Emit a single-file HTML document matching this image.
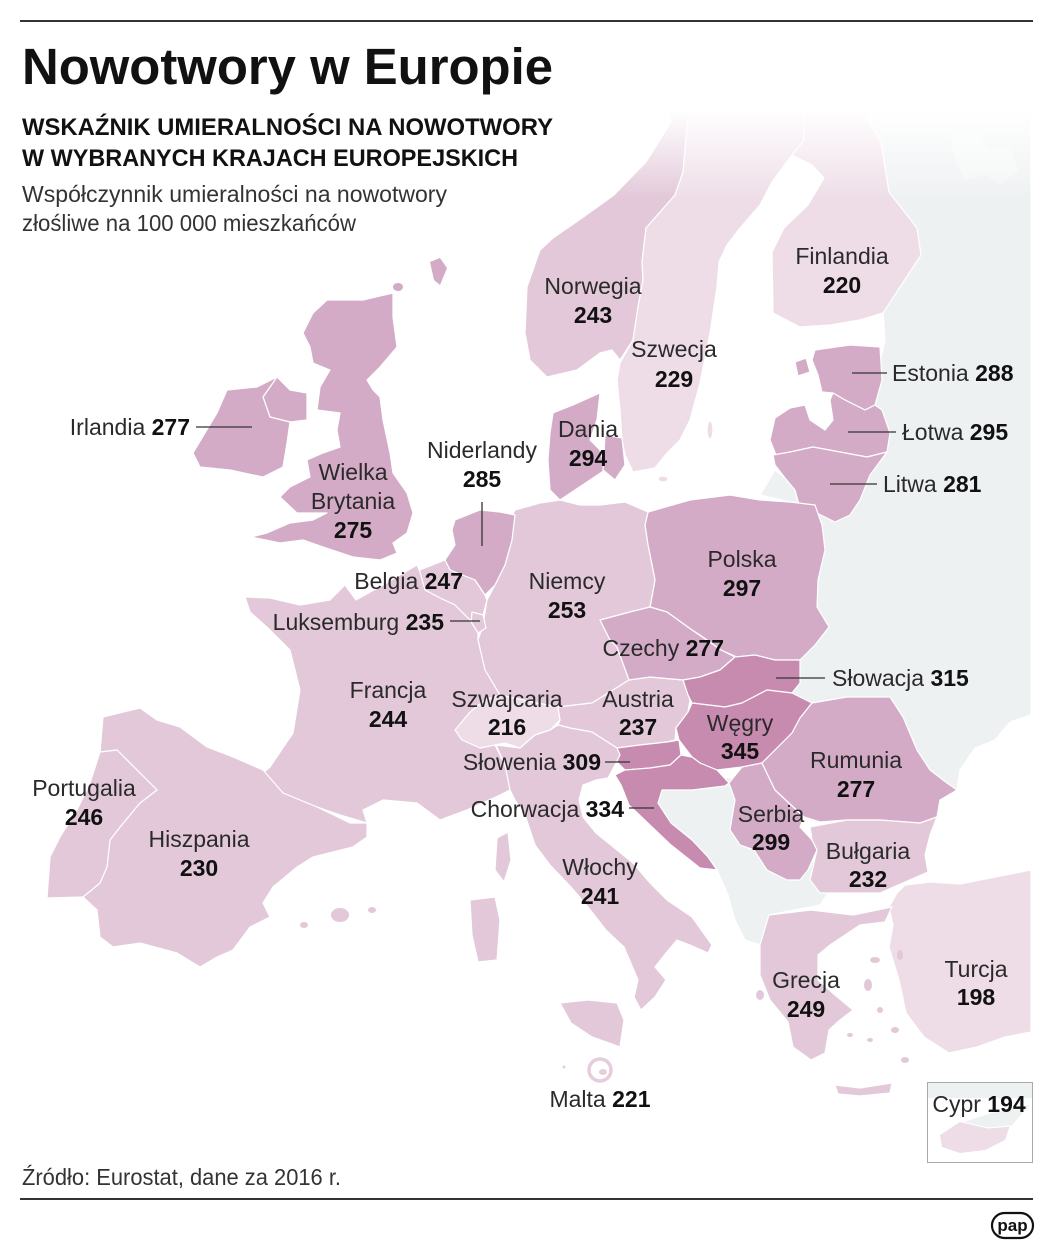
<!DOCTYPE html>
<html><head><meta charset="utf-8"><style>
html,body{margin:0;padding:0;background:#fff;}
svg{display:block;}
text{font-family:"Liberation Sans",sans-serif;}
.n{font-size:23px;fill:#2a2a2a;}
.v{font-size:23px;font-weight:bold;fill:#111;}
</style></head><body>
<svg width="1054" height="1250" viewBox="0 0 1054 1250" xmlns="http://www.w3.org/2000/svg">
<defs>
<linearGradient id="fade" x1="0" y1="0" x2="0" y2="1">
<stop offset="0" stop-color="#fff" stop-opacity="1"/>
<stop offset="0.12" stop-color="#fff" stop-opacity="1"/>
<stop offset="1" stop-color="#fff" stop-opacity="0"/>
</linearGradient>
</defs>
<rect width="1054" height="1250" fill="#fff"/>
<line x1="20" y1="21" x2="1033" y2="21" stroke="#333" stroke-width="2"/>

<g stroke="#fff" stroke-width="1.2" stroke-linejoin="round">
<polygon fill="#eef1f2" points="869,100 1031,100 1031,715 1010,722 995,740 975,748 960,770 957,790 790,800 790,500 860,450 885,340 883,313"/>
<polygon fill="#fff" fill-opacity="0.35" stroke="none" points="950,135 975,130 990,150 1010,145 1018,170 1000,185 985,175 965,180 955,160"/>
<polygon fill="#eef1f2" points="760,495 775,470 785,478 795,490 800,508 790,502"/>
<polygon fill="#eef1f2" points="650,785 760,775 830,890 820,905 769,915 760,945 745,940 735,920 728,895 717,870 700,865 671,840 655,815"/>
<polygon fill="#eedde7" points="889,907 897,893 905,885 930,882 960,884 1000,876 1031,870 1031,1032 1005,1037 977,1047 949,1053 924,1037 906,1013 899,980 889,947 893,925"/>

<polygon fill="#e2c8d9" points="547,377 577,370 600,353 612,350 620,360 633,340 638,307 643,280 642,262 646,228 675,195 683,172 687,128 690,100 665,100 671,122 646,162 614,195 582,218 553,238 540,250 527,287 525,333 530,360"/>
<polygon fill="#eedde7" points="690,100 804,100 804,140 792,155 772,182 760,205 740,228 727,245 719,262 717,287 710,333 700,383 690,420 680,440 667,453 655,468 633,472 625,455 622,440 620,410 617,380 620,363 633,340 638,307 643,280 642,262 646,228 675,195 683,172 687,128"/>
<ellipse cx="663" cy="479" rx="5" ry="3" fill="#eedde7"/>
<ellipse cx="710" cy="430" rx="3" ry="9" fill="#eedde7"/>
<polygon fill="#eedde7" points="804,100 869,100 869,122 881,142 889,192 917,228 921,255 883,313 860,320 830,325 800,327 773,313 772,252 784,228 808,205 824,178 812,165 792,155 804,140"/>
<polygon fill="#d4abc6" points="815,350 850,345 880,347 882,380 875,405 865,410 845,400 833,393 822,392 818,375 812,360"/>
<polygon fill="#d4abc6" points="795,362 806,358 810,372 798,376"/>
<polygon fill="#d4abc6" points="775,418 790,408 805,405 810,420 825,430 833,420 830,400 833,393 845,400 865,410 875,405 882,410 890,433 887,452 867,457 840,452 813,447 790,452 776,455 770,440"/>
<polygon fill="#d4abc6" points="773,455 790,452 813,447 840,452 867,457 887,452 870,475 860,500 850,515 835,522 815,512 800,508 795,490 785,478 775,465"/>
<polygon fill="#d4abc6" points="648,512 690,500 730,495 760,500 790,502 815,505 822,525 825,550 818,580 817,607 829,627 815,645 800,660 775,660 755,655 737,657 721,650 700,635 692,630 667,612 650,607 655,580 648,545 645,525"/>
<polygon fill="#e2c8d9" points="515,510 540,503 560,500 580,505 600,505 625,502 648,512 645,525 648,545 655,580 650,607 630,612 600,620 610,640 617,647 629,680 605,695 592,703 558,707 537,703 500,695 485,670 478,640 483,625 487,600 495,585 505,565 512,540 510,520"/>
<polygon fill="#d4abc6" points="553,413 573,405 600,393 597,420 590,440 600,450 605,470 590,480 575,490 560,500 550,490 548,460 550,433"/>
<polygon fill="#d4abc6" points="605,435 622,438 625,465 615,480 603,470"/>
<polygon fill="#d4abc6" points="455,520 480,510 500,512 515,515 512,540 505,565 495,585 485,595 475,580 460,575 450,570 445,560 455,545 452,530"/>
<polygon fill="#e2c8d9" points="420,570 445,560 450,570 475,580 485,595 487,600 483,615 470,620 455,605 440,598 425,590 418,580"/>
<polygon fill="#e2c8d9" points="472,612 483,615 486,628 478,633 471,624"/>
<polygon fill="#e2c8d9" points="417,565 420,572 425,590 440,598 455,605 470,620 478,633 478,640 485,670 500,695 490,700 485,715 500,725 495,745 505,765 510,790 500,795 467,810 440,820 417,803 383,800 363,810 367,823 340,815 317,807 283,793 263,773 270,767 293,733 300,690 290,650 270,630 250,612 245,597 270,598 300,605 330,600 345,585 356,600 383,585 400,575"/>
<polygon fill="#e2c8d9" points="497,838 508,832 511,860 504,882 495,870"/>
<polygon fill="#eedde7" points="455,730 470,712 485,700 500,695 537,703 558,707 560,720 550,730 535,735 520,748 505,743 480,748 462,740"/>
<polygon fill="#e2c8d9" points="558,707 592,703 605,695 629,680 650,677 683,680 690,700 688,712 676,728 675,740 667,742 640,745 617,748 592,732 570,728 558,725 560,720"/>
<polygon fill="#d4abc6" points="600,620 630,612 650,607 667,612 692,630 721,650 735,657 720,670 700,677 683,680 650,677 629,680 617,647 610,640"/>
<polygon fill="#c78bb0" points="683,680 700,677 720,670 735,657 755,655 775,660 800,660 800,683 792,693 767,690 742,703 725,707 692,703 688,695"/>
<polygon fill="#c78bb0" points="688,712 692,703 725,707 742,703 767,690 792,693 812,703 800,718 792,733 775,750 762,763 742,767 717,770 700,763 692,757 679,740 676,728"/>
<polygon fill="#c78bb0" points="617,748 640,745 667,742 679,740 681,755 670,765 650,768 625,770 615,760"/>
<polygon fill="#c78bb0" points="625,770 650,768 670,765 681,755 692,757 700,763 717,770 729,783 725,786 692,790 662,790 658,803 671,823 692,840 708,857 717,870 700,868 671,845 650,825 629,805 621,785 615,775"/>
<polygon fill="#d4abc6" points="729,783 742,767 762,763 775,790 804,817 800,827 812,840 817,850 808,870 800,880 787,880 767,870 754,850 740,845 730,830 735,800"/>
<polygon fill="#d4abc6" points="812,703 847,697 890,697 903,717 917,750 930,770 947,783 957,790 940,800 937,817 920,823 880,820 847,820 820,822 804,817 775,790 762,763 775,750 792,733 800,718"/>
<polygon fill="#e2c8d9" points="810,827 847,820 880,820 920,823 937,817 930,835 925,855 928,872 905,882 880,893 847,893 820,893 810,880 817,850 812,840"/>
<polygon fill="#e2c8d9" points="769,915 811,910 853,915 892,907 885,922 860,925 845,935 830,945 818,955 818,980 835,995 853,1010 840,1020 829,1030 825,1053 811,1060 793,1047 788,1022 770,1000 760,975 760,945"/>
<polygon fill="#e2c8d9" points="835,1085 860,1088 892,1083 890,1093 860,1096 838,1094"/>
<g fill="#e2c8d9" stroke="none">
<ellipse cx="875" cy="960" rx="5" ry="3"/><ellipse cx="868" cy="985" rx="4" ry="6"/><ellipse cx="880" cy="1010" rx="3" ry="3"/>
<ellipse cx="895" cy="1030" rx="4" ry="3"/><ellipse cx="870" cy="1040" rx="3" ry="2"/><ellipse cx="905" cy="1060" rx="4" ry="3"/>
<ellipse cx="850" cy="1035" rx="3" ry="2"/><ellipse cx="900" cy="955" rx="3" ry="5"/><ellipse cx="760" cy="995" rx="4" ry="5"/>
</g>
<polygon fill="#e2c8d9" points="496,745 520,748 535,735 550,730 558,725 570,728 592,732 617,748 620,755 615,765 608,778 596,780 583,785 579,800 583,817 596,833 617,850 633,863 650,883 667,900 692,917 712,945 708,953 690,945 677,940 666,953 655,967 666,980 655,997 641,1010 634,997 638,980 624,947 606,930 588,907 571,887 550,865 535,845 525,815 515,800 510,790 505,765"/>
<polygon fill="#e2c8d9" points="560,1003 588,1000 617,1003 624,1020 620,1047 592,1037 571,1023"/>
<polygon fill="#e2c8d9" points="470,900 495,897 500,920 497,960 478,962 472,935"/>
<polygon fill="#e2c8d9" points="103,717 140,708 157,720 180,727 207,747 233,757 263,770 283,793 317,807 350,823 367,823 367,837 353,847 313,857 297,867 273,887 263,903 270,917 250,927 233,950 217,957 200,967 177,953 140,943 113,947 100,937 97,910 83,897 100,883 107,867 110,840 120,827 140,803 157,790 147,780 117,750 100,752"/>
<g fill="#e2c8d9" stroke="none">
<ellipse cx="340" cy="915" rx="9" ry="7"/><ellipse cx="372" cy="910" rx="4" ry="3"/><ellipse cx="304" cy="925" rx="4" ry="3"/>
</g>
<polygon fill="#e2c8d9" points="100,752 117,750 147,780 157,790 140,803 120,827 110,840 107,867 100,883 83,897 47,898 50,857 60,837 77,810 90,783"/>
<polygon fill="#d4abc6" points="327,300 363,300 393,293 393,317 397,347 380,367 367,380 373,390 380,397 383,420 390,453 393,473 407,493 413,513 407,533 393,543 397,553 380,560 353,557 323,547 303,540 280,543 251,537 267,533 290,523 313,520 327,513 297,513 280,497 290,487 310,477 307,460 323,453 340,447 337,430 340,413 317,410 320,387 330,370 313,363 310,347 303,333 313,313"/>
<polygon fill="#d4abc6" points="263,397 277,377 290,390 307,393 307,420 290,422 270,417"/>
<g fill="#d4abc6" stroke="none">
<polygon points="430,262 440,258 447,268 440,285 434,280"/><ellipse cx="398" cy="287" rx="5" ry="4"/>
</g>
<polygon fill="#d4abc6" points="193,453 217,413 227,390 257,387 277,377 263,397 270,417 290,422 287,443 283,467 263,477 230,470 200,467"/>
</g>

<rect x="415" y="98" width="625" height="102" fill="url(#fade)"/>
<rect x="1032" y="90" width="22" height="1000" fill="#fff"/>

<circle cx="600" cy="1070" r="11" fill="#fff" stroke="#e5cddd" stroke-width="3.5"/>
<ellipse cx="603" cy="1072" rx="4" ry="3" fill="#e5cddd"/>
<circle cx="564" cy="1067" r="1.5" fill="#e5cddd"/>

<rect x="928" y="1083" width="104" height="15" fill="#eef1f2"/>
<polygon fill="#eedde7" points="940,1135 960,1122 990,1120 1010,1125 1005,1140 985,1150 960,1153 942,1147"/>
<polygon fill="#eef1f2" stroke="#fff" stroke-width="1" points="962,1122 990,1113 1031,1104 1012,1126 988,1128"/>
<rect x="927.5" y="1082.5" width="105" height="80" fill="none" stroke="#aaa" stroke-width="1"/>

<g stroke="#333" stroke-width="1.3">
<line x1="196" y1="427" x2="252" y2="427"/>
<line x1="852" y1="373" x2="887" y2="373"/>
<line x1="848" y1="432" x2="896" y2="432"/>
<line x1="830" y1="484" x2="877" y2="484"/>
<line x1="482" y1="502" x2="482" y2="546"/>
<line x1="450" y1="621" x2="480" y2="621"/>
<line x1="776" y1="678" x2="825" y2="678"/>
<line x1="605" y1="762" x2="630" y2="762"/>
<line x1="629" y1="808" x2="654" y2="808"/>
</g>

<text x="22" y="84" font-size="51" font-weight="bold" fill="#111" textLength="531" lengthAdjust="spacingAndGlyphs">Nowotwory w Europie</text>
<text x="22" y="135" font-size="24" font-weight="bold" fill="#111" textLength="531" lengthAdjust="spacingAndGlyphs">WSKAŹNIK UMIERALNOŚCI NA NOWOTWORY</text>
<text x="22" y="166" font-size="24" font-weight="bold" fill="#111" textLength="496" lengthAdjust="spacingAndGlyphs">W WYBRANYCH KRAJACH EUROPEJSKICH</text>
<text x="22" y="202" font-size="23" fill="#333" textLength="425" lengthAdjust="spacingAndGlyphs">Współczynnik umieralności na nowotwory</text>
<text x="22" y="231" font-size="23" fill="#333" textLength="334" lengthAdjust="spacingAndGlyphs">złośliwe na 100 000 mieszkańców</text>

<g text-anchor="middle">
<text class="n" x="593" y="294">Norwegia</text><text class="v" x="593" y="323">243</text>
<text class="n" x="842" y="264">Finlandia</text><text class="v" x="842" y="293">220</text>
<text class="n" x="674" y="357">Szwecja</text><text class="v" x="674" y="387">229</text>
<text class="n" x="588" y="437">Dania</text><text class="v" x="588" y="466">294</text>
<text class="n" x="482" y="458">Niderlandy</text><text class="v" x="482" y="487">285</text>
<text class="n" x="353" y="480">Wielka</text><text class="n" x="353" y="509">Brytania</text><text class="v" x="353" y="538">275</text>
<text class="n" x="567" y="589">Niemcy</text><text class="v" x="567" y="618">253</text>
<text class="n" x="742" y="567">Polska</text><text class="v" x="742" y="596">297</text>
<text class="n" x="388" y="698">Francja</text><text class="v" x="388" y="727">244</text>
<text class="n" x="507" y="707">Szwajcaria</text><text class="v" x="507" y="735">216</text>
<text class="n" x="638" y="707">Austria</text><text class="v" x="638" y="735">237</text>
<text class="n" x="740" y="731">Węgry</text><text class="v" x="740" y="759">345</text>
<text class="n" x="856" y="768">Rumunia</text><text class="v" x="856" y="797">277</text>
<text class="n" x="84" y="796">Portugalia</text><text class="v" x="84" y="825">246</text>
<text class="n" x="771" y="822">Serbia</text><text class="v" x="771" y="850">299</text>
<text class="n" x="199" y="847">Hiszpania</text><text class="v" x="199" y="876">230</text>
<text class="n" x="868" y="859">Bułgaria</text><text class="v" x="868" y="887">232</text>
<text class="n" x="600" y="875">Włochy</text><text class="v" x="600" y="904">241</text>
<text class="n" x="806" y="988">Grecja</text><text class="v" x="806" y="1017">249</text>
<text class="n" x="976" y="977">Turcja</text><text class="v" x="976" y="1005">198</text>
</g>
<text x="892" y="381"><tspan class="n">Estonia </tspan><tspan class="v">288</tspan></text>
<text x="902" y="440"><tspan class="n">Łotwa </tspan><tspan class="v">295</tspan></text>
<text x="883" y="492"><tspan class="n">Litwa </tspan><tspan class="v">281</tspan></text>
<text x="190" y="435" text-anchor="end"><tspan class="n">Irlandia </tspan><tspan class="v">277</tspan></text>
<text x="463" y="589" text-anchor="end"><tspan class="n">Belgia </tspan><tspan class="v">247</tspan></text>
<text x="444" y="630" text-anchor="end"><tspan class="n">Luksemburg </tspan><tspan class="v">235</tspan></text>
<text x="724" y="656" text-anchor="end"><tspan class="n">Czechy </tspan><tspan class="v">277</tspan></text>
<text x="832" y="686"><tspan class="n">Słowacja </tspan><tspan class="v">315</tspan></text>
<text x="601" y="770" text-anchor="end"><tspan class="n">Słowenia </tspan><tspan class="v">309</tspan></text>
<text x="624" y="817" text-anchor="end"><tspan class="n">Chorwacja </tspan><tspan class="v">334</tspan></text>
<text x="600" y="1107" text-anchor="middle"><tspan class="n">Malta </tspan><tspan class="v">221</tspan></text>
<text x="979" y="1112" text-anchor="middle"><tspan class="n">Cypr </tspan><tspan class="v">194</tspan></text>

<text x="22" y="1185" font-size="23" fill="#333" textLength="319" lengthAdjust="spacingAndGlyphs">Źródło: Eurostat, dane za 2016 r.</text>
<line x1="20" y1="1199" x2="1033" y2="1199" stroke="#333" stroke-width="2"/>
<rect x="992" y="1213" width="41" height="25" rx="12.5" fill="#fff" stroke="#111" stroke-width="2.2"/>
<text x="1012.5" y="1231" text-anchor="middle" font-size="17" font-weight="bold" fill="#111">pap</text>
</svg>
</body></html>
